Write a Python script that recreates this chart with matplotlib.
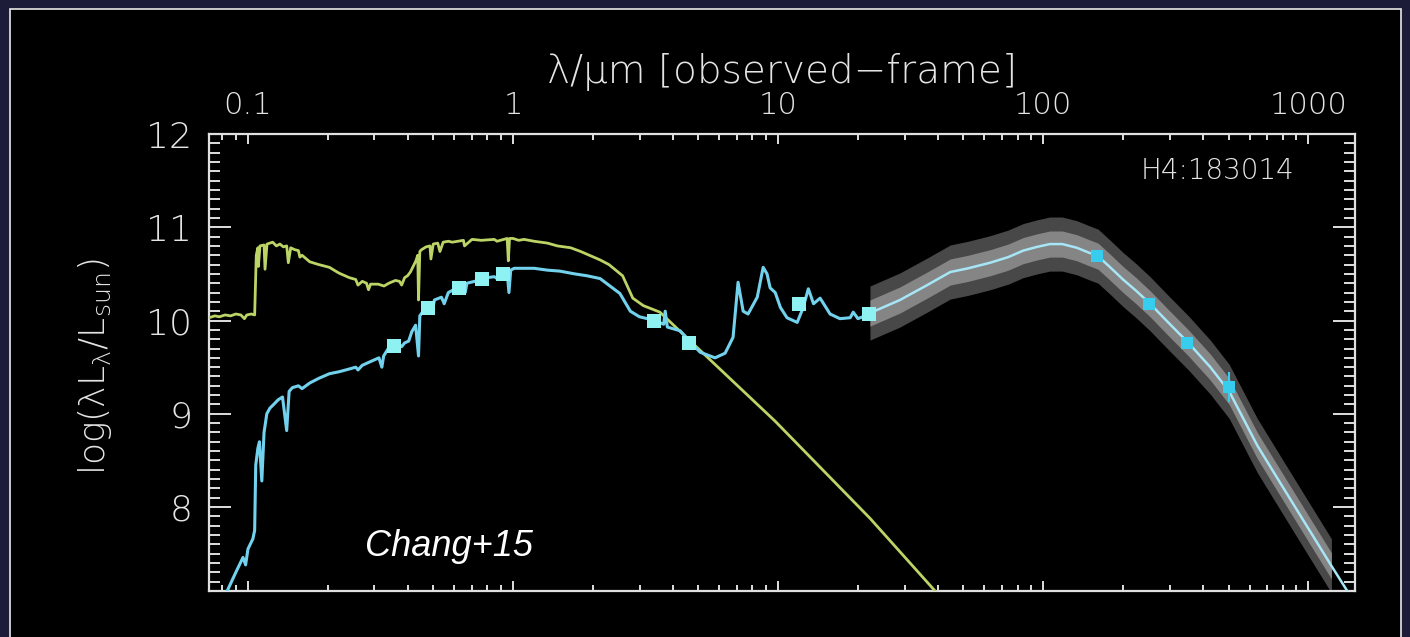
# SED of H4:183014 (Chang+15 style plot)
import matplotlib
matplotlib.use('Agg')
import matplotlib.pyplot as plt
from matplotlib.patches import Rectangle
from matplotlib.ticker import FixedLocator, FixedFormatter, LogLocator, NullFormatter, MultipleLocator

# intrinsic stellar spectrum (green)
stellar_wave = [0.0713, 0.075, 0.078, 0.082, 0.086, 0.09, 0.094, 0.097, 0.099, 0.103, 0.106,
                0.1075, 0.109, 0.1095, 0.111, 0.115, 0.116, 0.118, 0.124, 0.128, 0.132, 0.136,
                0.140, 0.142, 0.145, 0.150, 0.155, 0.157, 0.16, 0.171, 0.185, 0.203, 0.22,
                0.241, 0.255, 0.26, 0.27, 0.28, 0.285, 0.29, 0.31, 0.326, 0.34, 0.36, 0.373,
                0.38, 0.39, 0.40, 0.41, 0.42, 0.43, 0.437, 0.44, 0.445, 0.452, 0.47, 0.486,
                0.49, 0.50, 0.52, 0.53, 0.545, 0.57, 0.59, 0.65, 0.656, 0.70, 0.76, 0.85,
                0.87, 0.95, 0.96, 0.97, 1.0, 1.05, 1.1, 1.2, 1.35, 1.47, 1.65, 1.8, 2.13,
                2.3, 2.59, 2.83, 3.1, 3.58, 5.08, 9.75, 22.2, 39.1, 45.0]
stellar_logL = [10.03, 10.05, 10.04, 10.06, 10.05, 10.07, 10.06, 10.02, 10.06, 10.07, 10.06,
                10.70, 10.78, 10.58, 10.80, 10.81, 10.55, 10.82, 10.84, 10.80, 10.82, 10.79,
                10.80, 10.62, 10.78, 10.76, 10.75, 10.68, 10.70, 10.63, 10.60, 10.57, 10.51,
                10.46, 10.44, 10.38, 10.42, 10.40, 10.33, 10.39, 10.39, 10.37, 10.40, 10.43, 10.42,
                10.38, 10.46, 10.48, 10.52, 10.58, 10.64, 10.70, 10.22, 10.74, 10.76, 10.79, 10.80,
                10.66, 10.82, 10.83, 10.74, 10.84, 10.85, 10.84, 10.86, 10.80, 10.87, 10.86, 10.87,
                10.85, 10.88, 10.64, 10.88, 10.88, 10.86, 10.87, 10.85, 10.83, 10.80, 10.78, 10.74, 10.65,
                10.60, 10.48, 10.24, 10.16, 10.09, 9.68, 8.92, 7.88, 7.10, 6.92]

# attenuated stellar + dust spectrum (cyan)
obs_wave = [0.0835, 0.090, 0.0958, 0.098, 0.100, 0.1044, 0.106, 0.107, 0.109, 0.1105, 0.1128,
            0.115, 0.1178, 0.121, 0.125, 0.13, 0.135, 0.140, 0.143, 0.147, 0.155, 0.16, 0.171,
            0.185, 0.203, 0.22, 0.241, 0.255, 0.26, 0.270, 0.29, 0.312, 0.320, 0.325, 0.340,
            0.355, 0.37, 0.38, 0.39, 0.404, 0.415, 0.429, 0.44, 0.445, 0.468, 0.49, 0.495,
            0.505, 0.537, 0.55, 0.57, 0.606, 0.65, 0.66, 0.67, 0.740, 0.80, 0.85, 0.87, 0.901,
            0.95, 0.965, 0.98, 1.01, 1.1, 1.2, 1.35, 1.5, 1.71, 1.9, 2.13, 2.53, 2.77, 3.0,
            3.44, 3.7, 3.75, 3.82, 4.27, 4.66, 5.08, 5.78, 6.31, 6.76, 7.06, 7.38, 7.7, 8.34,
            8.78, 9.08, 9.33, 9.75, 10.2, 10.8, 11.8, 12.4, 13.0, 13.6, 14.4, 15.7, 17.1,
            18.7, 19.2, 20.0, 22.2]
obs_logL = [7.10, 7.30, 7.46, 7.38, 7.55, 7.66, 7.75, 8.45, 8.63, 8.70, 8.28,
            8.80, 9.00, 9.06, 9.10, 9.15, 9.18, 8.82, 9.24, 9.28, 9.30, 9.27, 9.33,
            9.38, 9.43, 9.45, 9.48, 9.50, 9.47, 9.52, 9.56, 9.60, 9.50, 9.62, 9.71,
            9.73, 9.75, 9.72, 9.76, 9.78, 9.88, 9.95, 9.62, 10.05, 10.14, 10.18, 10.08,
            10.22, 10.25, 10.18, 10.30, 10.34, 10.38, 10.30, 10.40, 10.43, 10.46, 10.47, 10.45, 10.48,
            10.52, 10.30, 10.54, 10.56, 10.56, 10.56, 10.54, 10.53, 10.50, 10.48, 10.45, 10.29, 10.10, 10.04,
            10.00, 9.96, 10.10, 9.93, 9.89, 9.77, 9.66, 9.60, 9.65, 9.82, 10.41, 10.10, 10.07, 10.25,
            10.57, 10.50, 10.35, 10.30, 10.14, 10.03, 9.98, 10.13, 10.34, 10.18, 10.24, 10.07, 10.02,
            10.03, 10.09, 10.02, 10.07]

# far-IR dust model and its confidence bands
dust_wave = [22.2, 28.8, 36.5, 44.6, 52.1, 63.1, 73.8, 84.1, 94.9, 106, 118, 134, 148, 161,
             179, 200, 224, 253, 296, 353, 427, 503, 642, 764, 966, 1222, 1403, 1517]
dust_logL = [10.08, 10.22, 10.38, 10.52, 10.56, 10.62, 10.68, 10.75, 10.79, 10.82, 10.82, 10.78,
             10.73, 10.69, 10.57, 10.44, 10.32, 10.18, 9.98, 9.76, 9.50, 9.24, 8.66, 8.31,
             7.84, 7.37, 7.10, 6.95]
band_inner = 0.14
band_outer = 0.29
band_end = 1222

# photometry
phot_wave = [0.355, 0.477, 0.623, 0.763, 0.913, 3.4, 4.6, 12, 22]
phot_logL = [9.73, 10.13, 10.35, 10.45, 10.50, 10.00, 9.76, 10.18, 10.07]
fir_wave = [160, 250, 350, 500]
fir_logL = [10.69, 10.18, 9.76, 9.29]
fir_err = [0.03, 0.03, 0.04, 0.16]

xticks = [0.1, 1, 10, 100, 1000]
xticklabels = ['0.1', '1', '10', '100', '1000']
yticks = [8, 9, 10, 11, 12]

W, H = 1410, 637
txt = '#e4e4e4'
font = dict(family='DejaVu Sans', fontweight=200)
plt.rcParams['mathtext.fontset'] = 'custom'
plt.rcParams['mathtext.rm'] = 'DejaVu Sans:light'
plt.rcParams['mathtext.it'] = 'DejaVu Sans:light'
plt.rcParams['mathtext.bf'] = 'DejaVu Sans:bold'

fig = plt.figure(figsize=(W / 100, H / 100), dpi=100, facecolor='#1c1c38')
fig.patches.append(Rectangle((10 / W, -0.05), 1391 / W, (H - 9) / H + 0.05,
                             transform=fig.transFigure, facecolor='black',
                             edgecolor='#e8e8e8', lw=1.2, zorder=-5))

ax = fig.add_axes([209 / W, 1 - 591 / H, (1355 - 209) / W, (591 - 134) / H])
ax.set_facecolor('black')
ax.set_xscale('log')
ax.set_xlim(0.0713, 1500)
ax.set_ylim(7.1, 12)

# bands
bw = [w for w in dust_wave if w <= band_end]
bl = dust_logL[:len(bw)]
ax.fill_between(bw, [v - band_outer for v in bl], [v + band_outer for v in bl],
                color='#484848', lw=0, zorder=1)
ax.fill_between(bw, [v - band_inner for v in bl], [v + band_inner for v in bl],
                color='#858585', lw=0, zorder=2)

ax.plot(stellar_wave, stellar_logL, color='#bcd466', lw=2, zorder=3)
ax.plot(obs_wave, obs_logL, color='#72d2ee', lw=2.2, zorder=4)
ax.plot(dust_wave, dust_logL, color='#a6e6f6', lw=1.8, zorder=4)

ax.plot(phot_wave, phot_logL, 's', color='#8ef2f2', ms=9.5, mew=0, zorder=6)
ax.errorbar(fir_wave, fir_logL, yerr=fir_err, fmt='s', color='#36cdee', ms=8.5, mew=0,
            elinewidth=1.5, capsize=5, capthick=1.5, zorder=6)

# axes styling
for s in ax.spines.values():
    s.set_color('#e0e0e0')
    s.set_linewidth(1.6)
ax.xaxis.set_major_locator(FixedLocator(xticks))
ax.xaxis.set_major_formatter(FixedFormatter(xticklabels))
ax.xaxis.set_minor_locator(LogLocator(base=10, subs=range(2, 10), numticks=20))
ax.xaxis.set_minor_formatter(NullFormatter())
ax.yaxis.set_major_locator(FixedLocator(yticks))
ax.yaxis.set_minor_locator(MultipleLocator(0.1))
ax.tick_params(axis='both', which='both', direction='in', colors='#e0e0e0', width=1.4)
ax.tick_params(axis='x', which='both', top=True, bottom=True, labeltop=True, labelbottom=False)
ax.tick_params(axis='x', which='major', length=7.5, pad=10, labelsize=22, labelcolor=txt)
ax.tick_params(axis='x', which='minor', length=4)
ax.tick_params(axis='y', which='both', left=True, right=True, labelleft=True, labelright=False)
ax.tick_params(axis='y', which='major', length=16, pad=12, labelsize=26, labelcolor=txt)
ax.tick_params(axis='y', which='minor', length=8)
for lab in ax.get_xticklabels() + ax.get_yticklabels():
    lab.set_fontfamily('DejaVu Sans')
    lab.set_fontweight(200)

fig.text(782 / W, 1 - 72 / H, 'λ/μm [observed\u2212frame]', color=txt, fontsize=28,
         ha='center', va='center', **font)
fig.text(95 / W, 1 - 367 / H, 'log(λL$_{λ}$/L$_{\\rm sun}$)', color=txt, fontsize=26,
         ha='center', va='center', rotation=90, **font)
ax.text(1218 / W, 1 - 171 / H, 'H4:183014', transform=fig.transFigure, color=txt,
        fontsize=20, ha='center', va='center', **font)
ax.text(449 / W, 1 - 546 / H, 'Chang+15', transform=fig.transFigure, color='white',
        fontsize=26, ha='center', va='center', family='Liberation Sans', style='italic')

fig.savefig('out.png', dpi=100, facecolor=fig.get_facecolor())
